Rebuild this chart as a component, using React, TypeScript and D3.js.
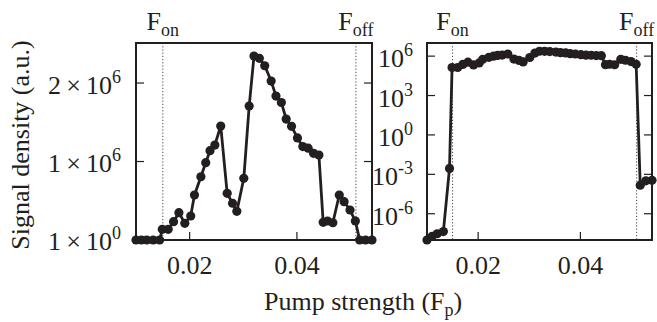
import React from "react";
import * as d3 from "d3";

// Pump strength F_p (x) and signal density (a.u.)
const pumpStrength = [
  0.0100, 0.0110, 0.0120, 0.0132, 0.0144, 0.0149, 0.0160, 0.0170, 0.0180, 0.0191,
  0.0202, 0.0209, 0.0221, 0.0230, 0.0238, 0.0247, 0.0258, 0.0270, 0.0280, 0.0288,
  0.0301, 0.0311, 0.0320, 0.0330, 0.0340, 0.0352, 0.0361, 0.0371, 0.0380, 0.0390,
  0.0401, 0.0411, 0.0421, 0.0431, 0.0441, 0.0449, 0.0457, 0.0467, 0.0479, 0.0488,
  0.0499, 0.0509, 0.0517, 0.0528, 0.0540,
];
const signalDensity = [
  1.0e-8, 1.9e-8, 3.0e-8, 4.4e-8, 2.8e-3, 1.36e5, 1.36e5, 2.33e5, 3.48e5, 2.13e5,
  3.06e5, 5.73e5, 8.06e5, 9.85e5, 1.138e6, 1.21e6, 1.452e6, 5.95e5, 4.68e5, 3.65e5,
  7.86e5, 1.707e6, 2.344e6, 2.315e6, 2.22e6, 2.025e6, 1.834e6, 1.752e6, 1.541e6, 1.448e6,
  1.30e6, 1.19e6, 1.17e6, 1.104e6, 1.083e6, 2.25e5, 2.42e5, 2.2e5, 5.73e5, 4.88e5,
  3.82e5, 2.42e5, 1.5e-4, 3.2e-4, 3.5e-4,
];

const xTicks = [0.02, 0.04];
const xTickLabels = ["0.02", "0.04"];
const linTicks = [1, 1e6, 2e6];
const linTickMantissa = ["1", "1", "2"];
const linTickExponent = ["0", "6", "6"];
const logTicks = [1e6, 1e3, 1, 1e-3, 1e-6];
const logTickExponent = ["6", "3", "0", "-3", "-6"];
const markerX = [0.015, 0.051];
const markerMain = ["F", "F"];
const markerSub = ["on", "off"];

const FONT = "'Liberation Serif', 'Times New Roman', serif";
const INK = "#231f20";
const FS = 26;
const SFS = 18;

const xDomain: [number, number] = [0.01, 0.054];
const top = 43;
const bottom = 240;

const xL = d3.scaleLinear().domain(xDomain).range([136, 372]);
const yL = d3.scaleLinear().domain([0, 2.51e6]).range([bottom, top]);
const xR = d3.scaleLinear().domain(xDomain).range([427, 652]);
const yR = d3.scaleLog().domain([1e-8, 1e7]).range([bottom, top]);

const data = pumpStrength.map((x, i) => ({ x, y: signalDensity[i] }));

function Panel({ xs, ys, log }: { xs: d3.ScaleLinear<number, number>; ys: any; log: boolean }) {
  const [x0, x1] = xs.range();
  const line = d3
    .line<{ x: number; y: number }>()
    .x((d) => xs(d.x))
    .y((d) => ys(d.y));
  const tickLen = 8;
  const yTicks = log ? logTicks : linTicks.slice(1);
  return (
    <g>
      {markerX.map((m, i) => (
        <g key={"m" + i}>
          <line x1={xs(m)} x2={xs(m)} y1={top} y2={bottom} stroke="#444" strokeWidth={1} strokeDasharray="1.2,2" />
          <text x={xs(m)} y={30} fontFamily={FONT} fontSize={FS} fill={INK} textAnchor="middle">
            {markerMain[i]}
            <tspan dy={6} fontSize={SFS}>{markerSub[i]}</tspan>
          </text>
        </g>
      ))}
      {xTicks.map((t, i) => (
        <g key={"x" + i}>
          <line x1={xs(t)} x2={xs(t)} y1={bottom} y2={bottom - tickLen} stroke={INK} strokeWidth={1.2} />
          <text x={xs(t)} y={274} fontFamily={FONT} fontSize={FS} fill={INK} textAnchor="middle">
            {xTickLabels[i]}
          </text>
        </g>
      ))}
      {yTicks.map((t, i) => (
        <g key={"y" + i}>
          <line x1={x0} x2={x0 + tickLen} y1={ys(t)} y2={ys(t)} stroke={INK} strokeWidth={1.2} />
          <line x1={x1} x2={x1 - tickLen} y1={ys(t)} y2={ys(t)} stroke={INK} strokeWidth={1.2} />
        </g>
      ))}
      {log
        ? logTicks.map((t, i) => (
            <text key={"ly" + i} x={413} y={ys(t) + 11} fontFamily={FONT} fontSize={FS} fill={INK} textAnchor="end">
              10
              <tspan dy={-11} fontSize={SFS}>{logTickExponent[i]}</tspan>
            </text>
          ))
        : linTicks.map((t, i) => (
            <text key={"ly" + i} x={121} y={ys(t) + 10.5} fontFamily={FONT} fontSize={FS} fill={INK} textAnchor="end">
              {linTickMantissa[i] + "\u2009\u00d7\u200910"}
              <tspan dy={-11} fontSize={SFS}>{linTickExponent[i]}</tspan>
            </text>
          ))}
      <rect x={x0} y={top} width={x1 - x0} height={bottom - top} fill="none" stroke={INK} strokeWidth={2} />
      <path d={line(data) || ""} fill="none" stroke={INK} strokeWidth={2.8} strokeLinejoin="round" />
      {data.map((d, i) => (
        <circle key={i} cx={xs(d.x)} cy={ys(d.y)} r={4.6} fill={INK} />
      ))}
    </g>
  );
}

export default function App() {
  return (
    <svg width={657} height={322} style={{ display: "block", position: "absolute", left: 0, top: 0, background: "#fff" }}>
      <rect width={657} height={322} fill="#fff" />
      <Panel xs={xL} ys={yL} log={false} />
      <Panel xs={xR} ys={yR} log={true} />
      <text
        transform="translate(29,145) rotate(-90)"
        fontFamily={FONT}
        fontSize={FS}
        fill={INK}
        textAnchor="middle"
      >
        Signal density (a.u.)
      </text>
      <text x={264} y={310} fontFamily={FONT} fontSize={FS} fill={INK}>
        Pump strength (F
        <tspan dy={6} fontSize={SFS}>p</tspan>
        <tspan dy={-6}>)</tspan>
      </text>
    </svg>
  );
}
